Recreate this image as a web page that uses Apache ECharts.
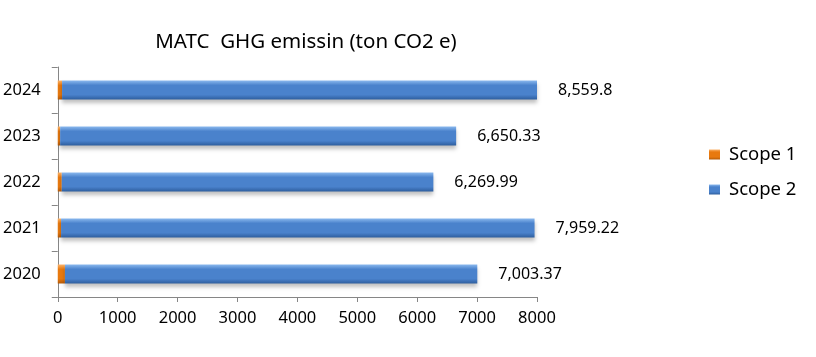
<!DOCTYPE html>
<html>
<head>
<meta charset="utf-8">
<script src="https://cdn.jsdelivr.net/npm/echarts@6/dist/echarts.min.js"></script>
<style>html,body{margin:0;padding:0;background:#fff}#c{width:816px;height:357px}</style>
</head>
<body>
<div id="c"></div>
<script>
const years = ['2020', '2021', '2022', '2023', '2024'];
const scope1 = [120, 55, 67, 40, 72];
const scope2 = [6883.37, 7904.22, 6202.99, 6610.33, 8487.8];
const totals = ['7,003.37', '7,959.22', '6,269.99', '6,650.33', '8,559.8'];
const xTicks = [0, 1000, 2000, 3000, 4000, 5000, 6000, 7000, 8000];

const font = "'Noto Sans', 'Open Sans', sans-serif";
function grad(top, mid, bot) {
  return new echarts.graphic.LinearGradient(0, 0, 0, 1, [
    {offset: 0, color: top}, {offset: 0.25, color: mid}, {offset: 0.75, color: mid}, {offset: 1, color: bot}
  ]);
}
const chart = echarts.init(document.getElementById('c'));
chart.setOption({
  animation: false,
  title: {
    text: 'MATC  GHG emissin (ton CO2 e)',
    left: 306, top: 32, textAlign: 'center', padding: 0,
    textStyle: {fontFamily: font, fontSize: 20.5, fontWeight: 'normal', color: '#000'}
  },
  legend: {
    orient: 'vertical', left: 704, top: 140, itemGap: 16,
    itemWidth: 11, itemHeight: 10, icon: 'rect',
    textStyle: {fontFamily: font, fontSize: 18.5, color: '#000', padding: [0, 0, 0, 4]},
    data: ['Scope 1', 'Scope 2']
  },
  grid: {left: 56, right: 279, top: 67, bottom: 60, containLabel: false},
  xAxis: {
    type: 'value', min: xTicks[0], max: xTicks[xTicks.length - 1], interval: 1000,
    axisLine: {show: true, lineStyle: {color: '#868686'}},
    axisTick: {show: true, length: 5, lineStyle: {color: '#868686'}},
    splitLine: {show: false},
    axisLabel: {margin: 13, fontFamily: font, fontSize: 16.5, color: '#000', formatter: v => String(v)}
  },
  yAxis: {
    type: 'category', data: years,
    axisLine: {show: true, lineStyle: {color: '#868686'}},
    axisTick: {show: true, length: 6, lineStyle: {color: '#868686'}},
    axisLabel: {margin: 17, fontFamily: font, fontSize: 16.5, color: '#000'}
  },
  series: [
    {
      name: 'Scope 1', type: 'bar', stack: 'ghg', data: scope1, barWidth: 19,
      itemStyle: {color: grad('#fbb36a', '#e8790f', '#b45a08')},
      emphasis: {disabled: true}
    },
    {
      name: 'Scope 2', type: 'bar', stack: 'ghg', data: scope2, barWidth: 19,
      itemStyle: {color: grad('#8ab8ee', '#4a82cc', '#2e5e9e'),
        shadowColor: 'rgba(0,0,0,0.25)', shadowBlur: 4, shadowOffsetY: 3},
      label: {
        show: true, position: 'right', distance: 21,
        fontFamily: font, fontSize: 16, color: '#000',
        formatter: p => totals[p.dataIndex]
      },
      emphasis: {disabled: true}
    }
  ]
});
</script>
</body>
</html>
